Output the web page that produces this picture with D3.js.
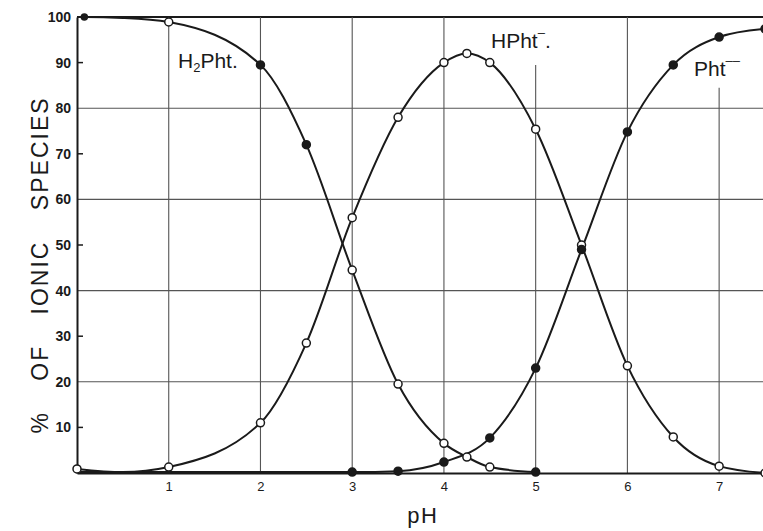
<!DOCTYPE html>
<html><head><meta charset="utf-8">
<script src="https://cdn.jsdelivr.net/npm/d3@7/dist/d3.min.js"></script>
<style>body{margin:0;background:#fff}svg{display:block}text{font-family:"Liberation Sans",Arial,sans-serif;fill:#1a1a1a}</style>
</head><body><svg id="c" width="763" height="531"></svg>
<script>
// ---- data ----
const xTicks = [1, 2, 3, 4, 5, 6, 7];
const yTickLabels = [10, 20, 30, 40, 50, 60, 70, 80, 90, 100];
const yGridValues = [20, 40, 60, 80, 100];

const h2phtPH   = [0.08, 0.5, 1, 2, 2.5, 3, 3.5, 4, 4.25, 4.5, 5];
const h2phtPct  = [100, 99.8, 98.9, 89.5, 72, 44.5, 19.5, 6.5, 3.5, 1.3, 0.2];
const h2phtMark = [true, false, true, true, true, true, true, true, true, true, true];

const hphtPH  = [0, 0.5, 1, 2, 2.5, 3, 3.5, 4, 4.25, 4.5, 5, 5.5, 6, 6.5, 7, 7.5];
const hphtPct = [0.9, 0.2, 1.3, 11, 28.5, 56, 78, 90, 92, 90, 75.4, 50, 23.5, 7.9, 1.5, 0];
const hphtMark = [true, false, true, true, true, true, true, true, true, true, true, true, true, true, true, true];

const phtPH  = [3, 3.5, 4, 4.5, 5, 5.5, 6, 6.5, 7, 7.5];
const phtPct = [0.2, 0.4, 2.4, 7.7, 23, 49, 74.8, 89.5, 95.6, 97.4];

// ---- drawing ----
const svg = d3.select("#c");
const x = d3.scaleLinear().domain([0, 7.5]).range([77, 765]);
const y = d3.scaleLinear().domain([0, 100]).range([473, 17]);
const ink = "#1a1a1a";

// grid: horizontal
svg.append("g").selectAll("line").data(yGridValues).join("line")
  .attr("x1", x(0)).attr("x2", x(7.5))
  .attr("y1", d => y(d)).attr("y2", d => y(d))
  .attr("stroke", d => d === 100 ? ink : "#555")
  .attr("stroke-width", d => d === 100 ? 1.8 : 1.1);

// grid: vertical (5 and 7 stop below the labels)
const gridTop = v => v === 5 ? 89.5 : v === 7 ? 84.5 : 100;
svg.append("g").selectAll("line").data(xTicks).join("line")
  .attr("x1", d => x(d)).attr("x2", d => x(d))
  .attr("y1", d => y(gridTop(d))).attr("y2", y(0))
  .attr("stroke", "#555").attr("stroke-width", 1.1);

// axes
const yAxis = d3.axisLeft(y).tickValues(yTickLabels).tickSize(0).tickPadding(6);
const gy = svg.append("g").attr("transform", `translate(${x(0)},0)`).call(yAxis);
gy.select(".domain").attr("stroke", ink).attr("stroke-width", 2);
gy.selectAll("text").attr("font-size", 14).attr("font-weight", 600).style("fill", ink);
// small inward ticks at odd tens
svg.append("g").selectAll("line").data(yTickLabels.filter(v => !yGridValues.includes(v))).join("line")
  .attr("x1", x(0)).attr("x2", x(0) + 6)
  .attr("y1", d => y(d)).attr("y2", d => y(d))
  .attr("stroke", ink).attr("stroke-width", 1.5);

const xAxis = d3.axisBottom(x).tickValues(xTicks).tickSize(0).tickPadding(9);
const gx = svg.append("g").attr("transform", `translate(0,${y(0)})`).call(xAxis);
gx.select(".domain").attr("stroke", ink).attr("stroke-width", 2);
gx.selectAll("text").attr("font-size", 13).style("fill", ink);

// axis titles
svg.append("text").attr("x", x(3.77)).attr("y", 523).attr("text-anchor", "middle")
  .attr("font-size", 22).attr("letter-spacing", 1.5).text("pH");
svg.append("text").attr("transform", "translate(48,265) rotate(-90)")
  .attr("text-anchor", "middle").attr("font-size", 23)
  .attr("letter-spacing", 2).attr("word-spacing", 22)
  .text("% OF IONIC SPECIES");

// curves
const line = d3.line().x(d => x(d[0])).y(d => y(d[1])).curve(d3.curveMonotoneX);
const series = [
  {ph: h2phtPH, v: h2phtPct, mark: h2phtMark, fill: (i) => [0, 3, 4, 10].includes(i) ? ink : "#fff"},
  {ph: hphtPH, v: hphtPct, mark: hphtMark, fill: (i) => "#fff"},
  {ph: phtPH, v: phtPct, mark: phtPH.map(() => true), fill: (i) => ink}
];
series.forEach(s => {
  const pts = s.ph.map((p, i) => [p, s.v[i]]);
  if (s.ph[0] > 0) pts.unshift([0, s.v[0]]);
  svg.append("path").datum(pts).attr("d", line)
    .attr("fill", "none").attr("stroke", ink).attr("stroke-width", 2);
});
series.forEach(s => {
  const pts = s.ph.map((p, i) => [p, s.v[i], i]).filter(d => s.mark[d[2]]);
  svg.append("g").selectAll("circle").data(pts).join("circle")
    .attr("cx", d => x(d[0])).attr("cy", d => y(d[1])).attr("r", d => (s.ph === h2phtPH && d[2] === 0) ? 3 : 4)
    .attr("fill", d => s.fill(d[2])).attr("stroke", ink).attr("stroke-width", 1.5);
});

// species labels
const lab = svg.append("g").attr("font-size", 21);
const t1 = lab.append("text").attr("x", 178).attr("y", 68);
t1.append("tspan").text("H");
t1.append("tspan").attr("font-size", 13).attr("dy", 4).text("2");
t1.append("tspan").attr("dy", -4).text("Pht.");
const t2 = lab.append("text").attr("x", 491).attr("y", 48);
t2.append("tspan").text("HPht");
t2.append("tspan").attr("font-size", 13).attr("dy", -11).text("\u2013");
t2.append("tspan").attr("dy", 11).text(".");
const t3 = lab.append("text").attr("x", 694).attr("y", 76);
t3.append("tspan").text("Pht");
t3.append("tspan").attr("font-size", 13).attr("dy", -11).text("\u2013\u2013");
</script></body></html>
